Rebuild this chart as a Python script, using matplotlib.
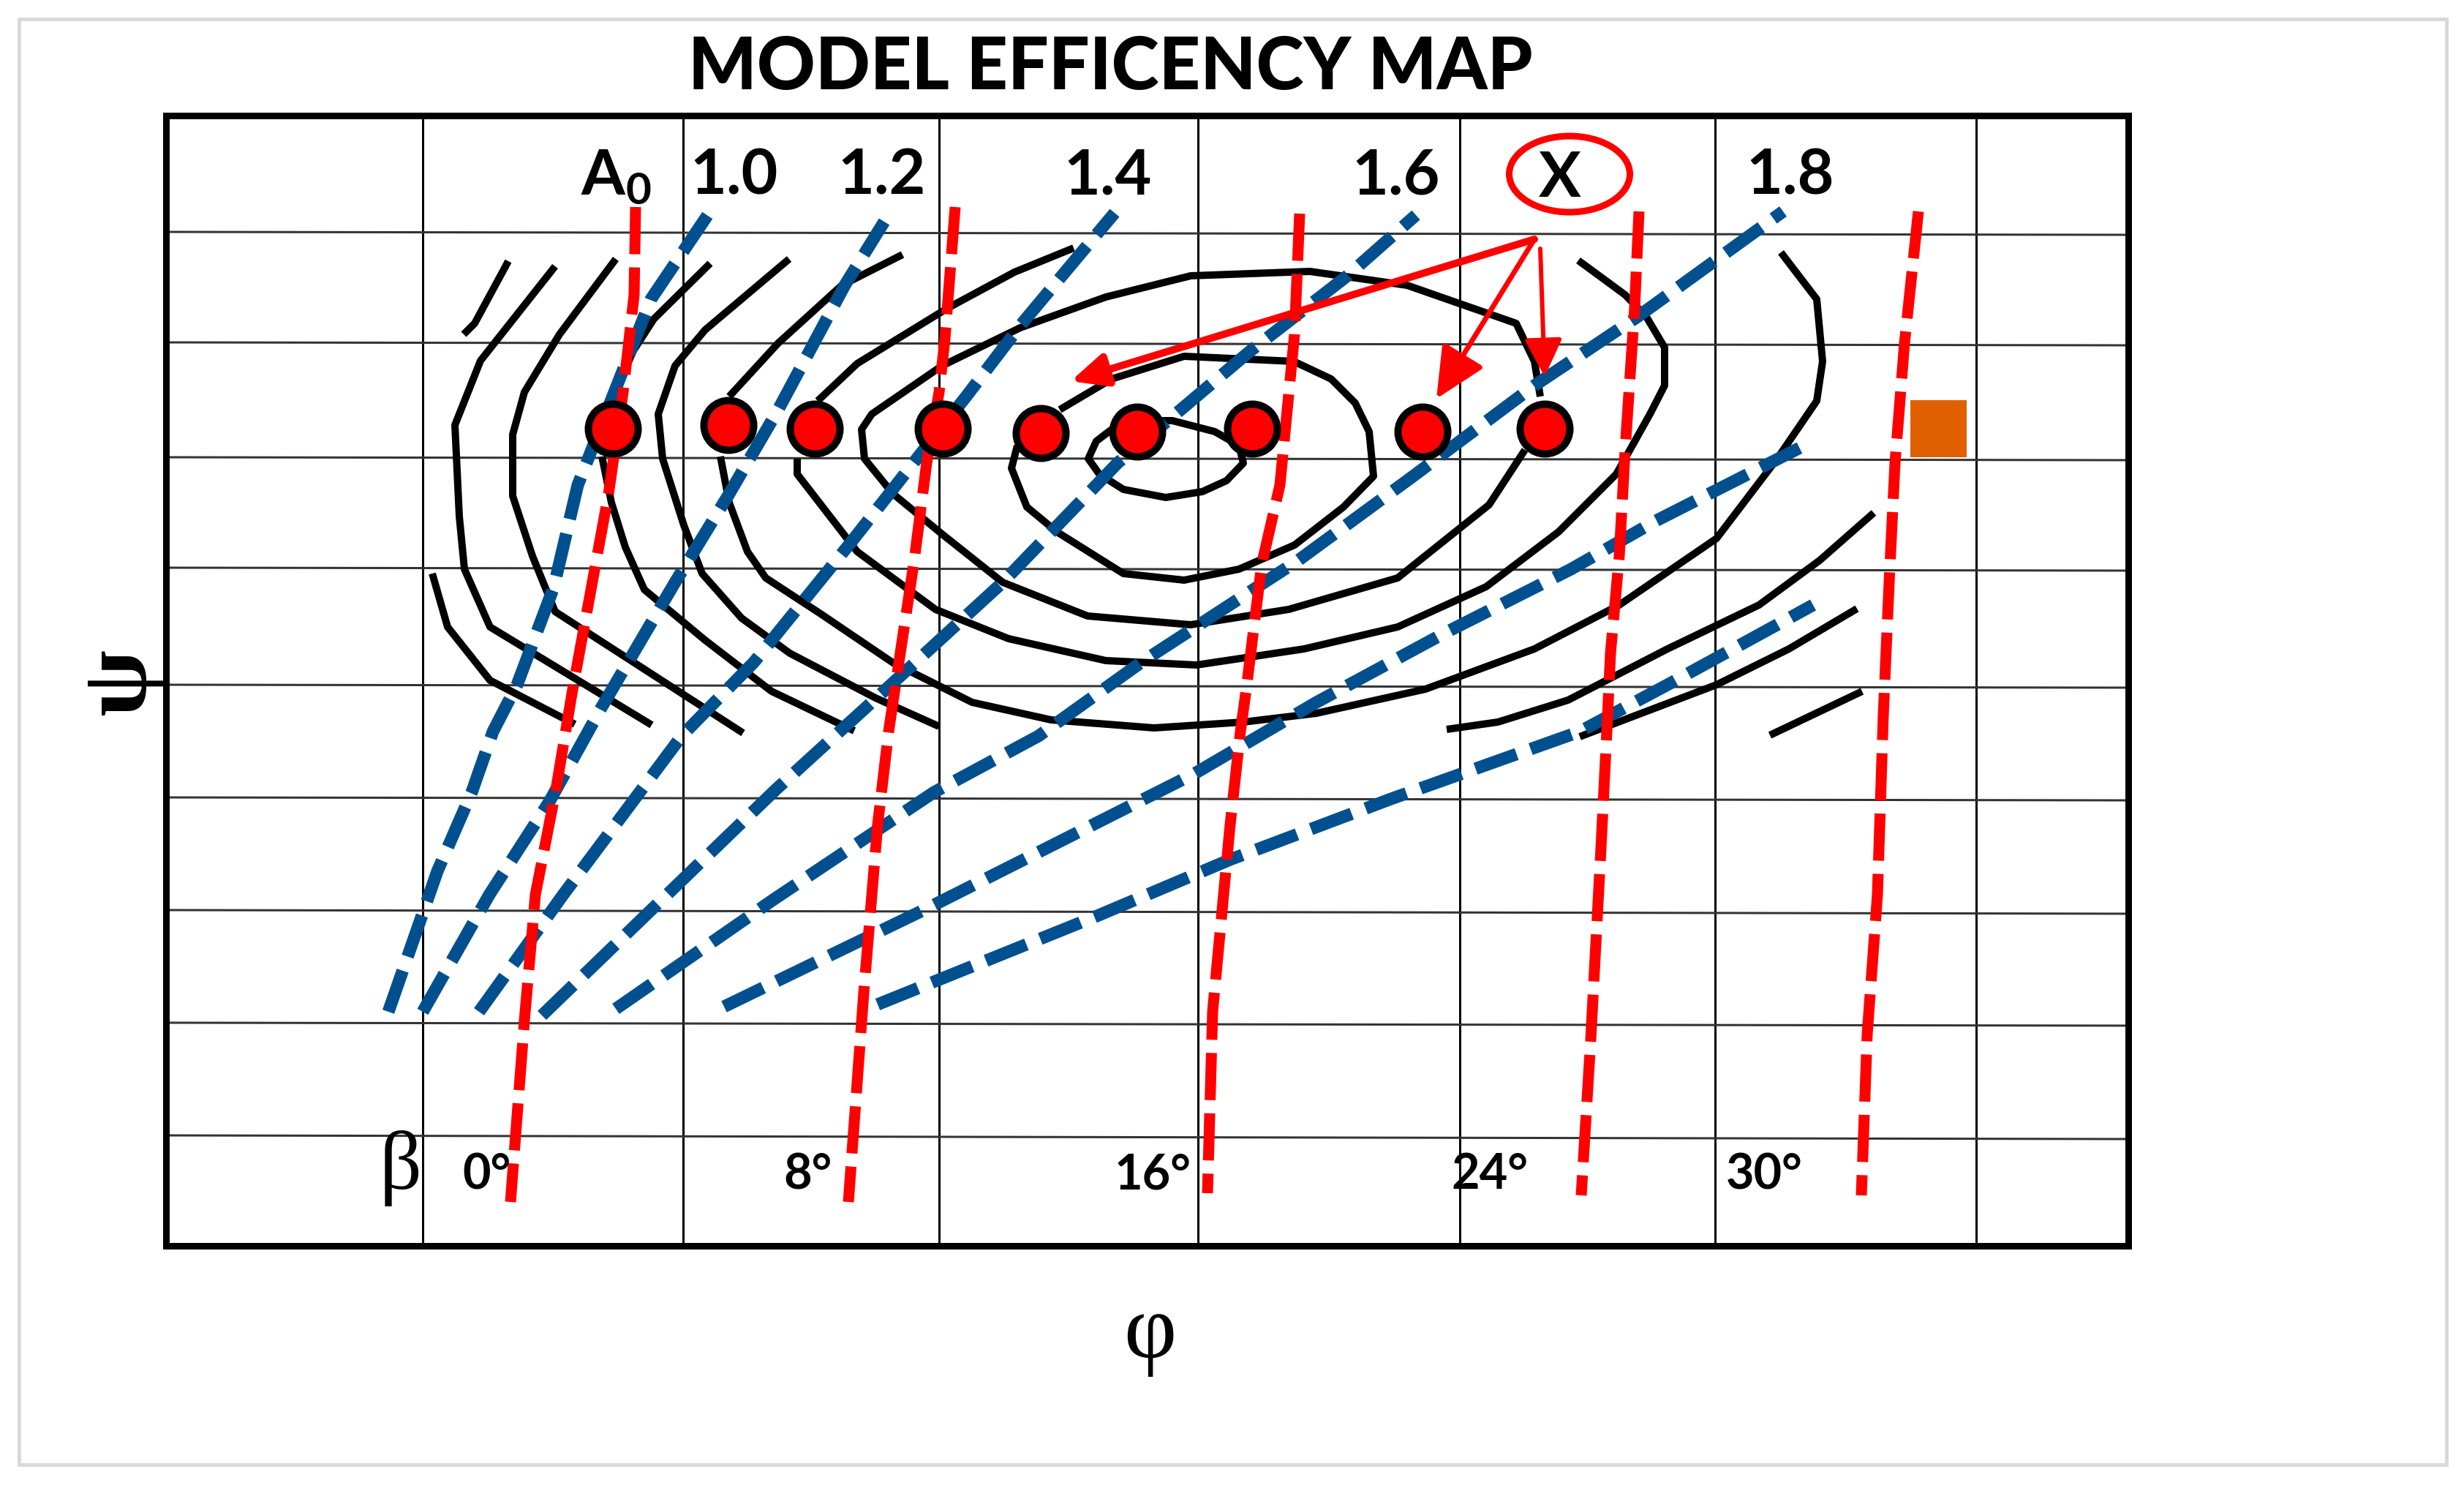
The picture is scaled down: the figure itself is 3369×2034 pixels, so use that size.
import matplotlib
matplotlib.use("Agg")
import matplotlib.pyplot as plt
from matplotlib.patches import Ellipse, Rectangle

W, H = 3369, 2034
PX = 0.72  # one image pixel in points at dpi 100

plt.rcParams['font.family'] = ['Lato', 'DejaVu Sans']
plt.rcParams['mathtext.default'] = 'regular'

FRAME_X = (227, 2910)
FRAME_Y = (158, 1703)

grid_x = [578, 934, 1284, 1638, 1996, 2345, 2702]
grid_y_left = [317, 468, 625, 776, 936, 1090, 1244, 1398, 1552]
grid_y_right = [321, 472, 629, 780, 940, 1094, 1249, 1402, 1557]

red_lines = [
    [(869, 283), (867, 403), (852, 536), (832, 675), (782, 948), (760, 1080), (732, 1223), (717, 1395), (698, 1643)],
    [(1306, 283), (1292, 463), (1284, 536), (1267, 633), (1250, 766), (1230, 899), (1215, 1000), (1200, 1127), (1181, 1357), (1160, 1643)],
    [(1777, 292), (1770, 457), (1750, 663), (1725, 772), (1704, 942), (1696, 1000), (1682, 1127), (1658, 1383), (1651, 1631)],
    [(2241, 289), (2235, 421), (2222, 615), (2214, 760), (2202, 893), (2197, 1000), (2189, 1159), (2175, 1421), (2162, 1634)],
    [(2623, 289), (2604, 469), (2591, 633), (2583, 796), (2575, 978), (2567, 1223), (2553, 1414), (2545, 1634)],
]

blue_lines = [
    [(973, 286), (890, 409), (840, 536), (790, 663), (757, 803), (707, 936), (674, 1000), (645, 1083), (598, 1191), (531, 1383)],
    [(1209, 303), (1155, 390), (1064, 560), (997, 675), (923, 796), (823, 966), (751, 1096), (669, 1223), (578, 1383)],
    [(1524, 291), (1395, 445), (1321, 542), (1263, 615), (1163, 742), (1031, 905), (932, 1006), (770, 1223), (655, 1383)],
    [(1936, 294), (1841, 378), (1708, 481), (1528, 633), (1371, 796), (1205, 948), (1060, 1080), (885, 1249), (741, 1388)],
    [(2438, 289), (2239, 433), (2098, 527), (1932, 651), (1775, 766), (1561, 905), (1420, 1006), (1277, 1083), (1057, 1230), (842, 1379)],
    [(2467, 609), (2264, 712), (2148, 778), (1974, 866), (1800, 960), (1634, 1057), (1267, 1242), (990, 1376)],
    [(2479, 827), (2280, 936), (2160, 1000), (1902, 1092), (1682, 1175), (1500, 1252), (1200, 1373)],
]

contours = [
    [(695, 357), (649, 442), (634, 457)],
    [(759, 364), (657, 493), (622, 581), (628, 706), (635, 778), (670, 857), (891, 991)],
    [(591, 784), (612, 857), (670, 930), (786, 990)],
    [(842, 354), (765, 457), (717, 536), (701, 594), (701, 678), (728, 760), (759, 836), (1016, 1002)],
    [(971, 360), (894, 436), (865, 481), (840, 542)],
    [(823, 624), (836, 687), (855, 748), (881, 806), (964, 875), (1055, 945), (1168, 999)],
    [(1079, 354), (964, 451), (923, 500), (900, 566), (906, 627), (935, 718), (960, 784), (1014, 845), (1080, 893), (1197, 954), (1284, 993)],
    [(1234, 348), (1151, 390), (1064, 469), (997, 542)],
    [(985, 624), (997, 687), (1022, 754), (1047, 790), (1122, 839), (1221, 906), (1329, 960), (1437, 984), (1578, 995), (1700, 987), (1800, 975), (1949, 942), (2098, 887), (2214, 827), (2347, 736), (2430, 627), (2484, 548), (2492, 494), (2484, 409), (2435, 345)],
    [(1468, 339), (1387, 372), (1296, 421), (1172, 497), (1118, 548)],
    [(1090, 627), (1090, 648), (1172, 754), (1279, 833), (1379, 873), (1512, 903), (1636, 909), (1783, 887), (1911, 857), (2032, 802), (2131, 727), (2210, 648), (2256, 566), (2276, 527), (2276, 475), (2251, 433), (2222, 403), (2158, 356)],
    [(2106, 542), (2098, 494), (2073, 442), (1924, 390), (1791, 371), (1628, 377), (1512, 406), (1395, 448), (1288, 500), (1192, 566), (1178, 587), (1182, 627), (1221, 675), (1288, 730), (1371, 796), (1487, 842), (1628, 854), (1762, 833), (1911, 790), (2036, 690), (2085, 615)],
    [(1449, 560), (1520, 518), (1619, 487), (1769, 494), (1820, 518), (1853, 551), (1872, 590), (1878, 651), (1837, 693), (1770, 745), (1694, 778), (1619, 793), (1536, 784), (1445, 727), (1404, 693), (1383, 640), (1391, 609)],
    [(1520, 587), (1561, 575), (1603, 575), (1661, 590), (1694, 609), (1700, 633), (1677, 657), (1644, 672), (1594, 680), (1536, 669), (1503, 648), (1488, 627), (1499, 603), (1520, 587)],
    [(1978, 997), (2048, 987), (2144, 957), (2280, 887), (2405, 827), (2488, 766), (2562, 701)],
    [(2160, 1007), (2347, 936), (2446, 887), (2539, 832)],
    [(2420, 1005), (2546, 945)],
]

point_x = [838, 996, 1114, 1289, 1423, 1555, 1712, 1945, 2112]
point_y = [586, 581, 586, 586, 592, 590, 586, 590, 586]

number_labels = ['1.0', '1.2', '1.4', '1.6', '1.8']
number_x = [1004, 1206, 1515, 1909, 2448]
beta_labels = ['0°', '8°', '16°', '24°', '30°']
beta_x = [665, 1105, 1576, 2037, 2412]

fig = plt.figure(figsize=(W / 100, H / 100), dpi=100, facecolor='white')
ax = fig.add_axes([FRAME_X[0] / W, 1 - FRAME_Y[1] / H,
                   (FRAME_X[1] - FRAME_X[0]) / W, (FRAME_Y[1] - FRAME_Y[0]) / H])
ax.set_xlim(*FRAME_X)
ax.set_ylim(FRAME_Y[1], FRAME_Y[0])
ax.set_xticks([])
ax.set_yticks([])
for s in ax.spines.values():
    s.set_linewidth(9 * PX)
    s.set_zorder(10)

# grid
for x in grid_x:
    ax.axvline(x, color='black', lw=3 * PX, zorder=1)
for yl, yr in zip(grid_y_left, grid_y_right):
    ax.plot(FRAME_X, [yl, yr], color='#333333', lw=3 * PX, zorder=1)

# contours
for c in contours:
    ax.plot([p[0] for p in c], [p[1] for p in c], color='black', lw=10 * PX,
            solid_joinstyle='round', solid_capstyle='butt', zorder=2)

for line in blue_lines:
    line = line[::-1]
    ax.plot([p[0] for p in line], [p[1] for p in line], color='#00508F', lw=17 * PX,
            dashes=(3.5, 1.2), dash_capstyle='butt', zorder=3)
for line in red_lines:
    ax.plot([p[0] for p in line], [p[1] for p in line], color='#FF0000', lw=15 * PX,
            dashes=(4.3, 1.2), dash_capstyle='butt', zorder=3)

# operating points
ax.plot(point_x, point_y, ls='none', marker='o', ms=68 * PX, mfc='#FF0000',
        mec='black', mew=10 * PX, zorder=5)

ax.add_patch(Rectangle((2612, 547), 77, 78, color='#E06000', lw=0, zorder=4))
ax.add_patch(Ellipse((2146, 238), 165, 104, fill=False, ec='#FF0000', lw=9 * PX, zorder=4))

# arrows out of the X
arrow_starts = [(2098, 327), (2098, 327), (2106, 340)]
arrow_ends = [(1464, 521), (1964, 545), (2112, 515)]
arrow_widths = [10, 7, 6]
arrow_heads = ['-|>,head_length=0.65,head_width=0.3', '-|>,head_length=0.95,head_width=0.45', '-|>,head_length=0.7,head_width=0.35']
for a, b, w, h in zip(arrow_starts, arrow_ends, arrow_widths, arrow_heads):
    ax.annotate('', xy=b, xytext=a, zorder=6,
                arrowprops=dict(arrowstyle=h, color='#FF0000', lw=w * PX, shrinkA=0, shrinkB=0,
                                mutation_scale=45))

# labels
ax.text(794, 266, 'A$_{0}$', fontsize=62, fontweight='bold', ha='left', va='baseline', zorder=7)
for x, t in zip(number_x, number_labels):
    ax.text(x, 266, t, fontsize=62, fontweight='bold', ha='center', va='baseline', zorder=7)
ax.text(2133, 269, 'X', fontsize=62, fontweight='bold', ha='center', va='baseline', zorder=7)
for x, t in zip(beta_x, beta_labels):
    ax.text(x, 1625, t, fontsize=48, fontweight='bold', ha='center', va='baseline', zorder=7)
ax.text(548, 1625, 'β', fontsize=82, family='Liberation Serif', ha='center', va='baseline', zorder=7)

fig.text(1518 / W, 1 - 122 / H, 'MODEL EFFICENCY MAP', fontsize=71, fontweight='black',
         ha='center', va='baseline')
fig.text(1572 / W, 1 - 1855 / H, 'φ', fontsize=90, family='Liberation Serif', ha='center', va='baseline')
fig.text(167 / W, 1 - 933 / H, 'ψ', fontsize=95, family='Liberation Serif', fontweight='bold', rotation=90,
         ha='center', va='center')

# outer border of the sheet
fig.add_artist(Rectangle((26 / W, 1 - 2002 / H), (3345 - 26) / W, (2002 - 26) / H, fill=False,
                         ec='#D9D9D9', lw=5 * PX, transform=fig.transFigure))

fig.savefig('out.png', dpi=100, facecolor='white')
